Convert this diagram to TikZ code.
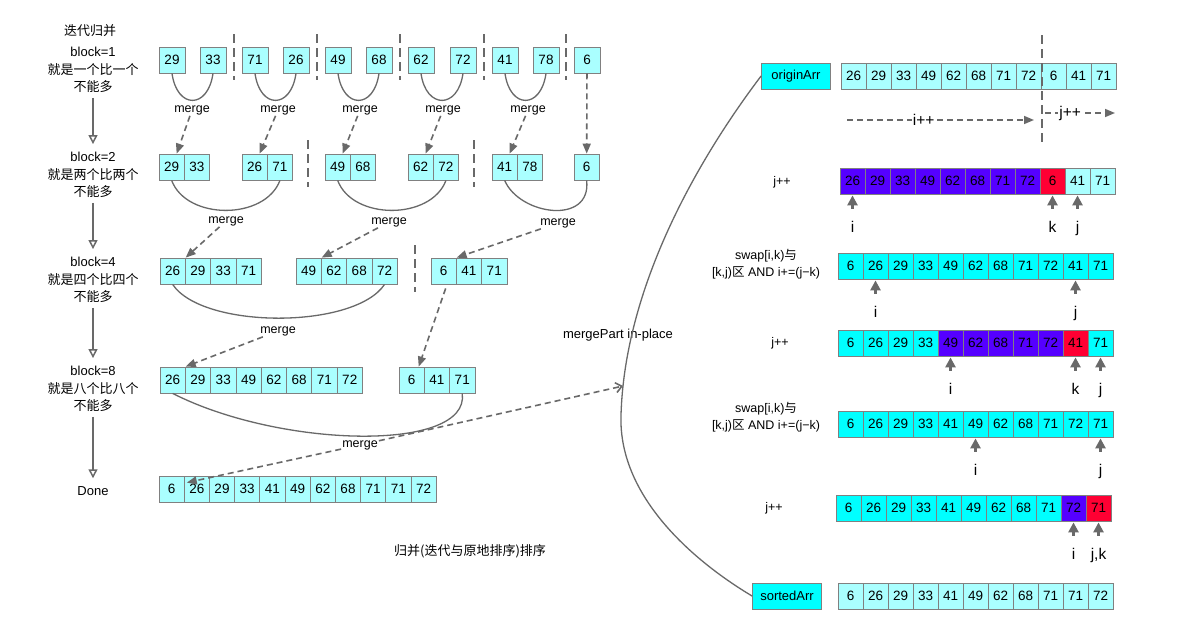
\documentclass[tikz,border=0pt]{standalone}
\usepackage{fontspec}
\setmainfont{Liberation Sans}
\newfontfamily\cjk{Noto Sans CJK SC}
\usepackage{xcolor}
\usetikzlibrary{arrows.meta, positioning, calc}
\definecolor{lc}{RGB}{170,255,255}
\definecolor{cy}{RGB}{0,255,255}
\definecolor{pu}{RGB}{85,0,255}
\definecolor{rd}{RGB}{255,0,51}
\definecolor{lineGray}{RGB}{128,128,128}
\definecolor{arrGray}{RGB}{105,105,105}

% a row of array cells: [cell width] name, left x, centre y, value/colour list
\newcommand{\cellrow}[5][25.3]{%
  \foreach \val/\col [count=\n from 0] in {#5}
    \node[cell, fill=\col, minimum width=#1] (#2\n) at ({#3+(\n+0.5)*#1}, #4) {\val};
}
% pointer label under a cell with its arrow
\newcommand{\ptr}[3]{%
  \node[ptrlbl] (#1) at ([yshift=-51pt]#2.center) {#3};
  \draw[uparr] (#1) -- (#2);
}

\begin{document}
\begin{tikzpicture}[
  x=1pt, y=-1pt,
  cell/.style={draw=lineGray, line width=0.8pt, minimum height=26, inner sep=0pt,
               font=\fontsize{13.5}{15}\selectfont},
  abox/.style={draw=lineGray, line width=0.8pt, fill=cy, minimum width=69,
               minimum height=26, inner sep=0pt, font=\fontsize{13}{15}\selectfont},
  lbl/.style={font=\fontsize{13}{17.5}\selectfont, align=center, inner sep=1pt},
  rlbl/.style={font=\fontsize{12.5}{17}\selectfont, align=center, inner sep=1pt},
  mrg/.style={font=\fontsize{12.5}{14}\selectfont, inner sep=1pt},
  ptrlbl/.style={anchor=base, inner sep=0pt, text height=11pt, text depth=0pt,
                 font=\fontsize{15.5}{17}\selectfont},
  flow/.style={draw=arrGray, line width=1.5pt, shorten <=4pt, shorten >=7pt,
               -{Triangle[open, length=9pt, width=9pt, fill=white]}},
  darr/.style={draw=arrGray, line width=1.6pt, dash pattern=on 6pt off 4pt,
               -{Triangle[length=10pt, width=8pt]}},
  darropen/.style={draw=arrGray, line width=1.6pt, dash pattern=on 6pt off 4pt,
               -{Straight Barb[length=6pt, width=10pt]}},
  uparr/.style={draw=arrGray, line width=2.6pt, shorten <=12pt, shorten >=1pt,
               -{Triangle[length=10pt, width=10pt]}},
  curve/.style={draw=arrGray, line width=1.3pt},
  sep/.style={draw=arrGray, line width=1.3pt, dash pattern=on 9pt off 5pt},
]
\path[fill=white] (0,0) rectangle (1196,641);

% ---- iterative merge, left side
\node[lbl] (t0) at (90,31) {\cjk 迭代归并};
\node[lbl] (s1) at (93,70) {block=1\\{\cjk 就是一个比一个}\\{\cjk 不能多}};
\node[lbl] (s2) at (93,175) {block=2\\{\cjk 就是两个比两个}\\{\cjk 不能多}};
\node[lbl] (s4) at (93,280) {block=4\\{\cjk 就是四个比四个}\\{\cjk 不能多}};
\node[lbl] (s8) at (93,389) {block=8\\{\cjk 就是八个比八个}\\{\cjk 不能多}};
\node[lbl] (done) at (93,491) {Done};

\draw[flow] (s1) -- (s2);
\draw[flow] (s2) -- (s4);
\draw[flow] (s4) -- (s8);
\draw[flow] (s8) -- (done);

% block=1
\foreach \val/\xl [count=\n] in {29/159,33/200,71/242,26/283,49/325,68/366,62/408,72/450,41/492,78/533,6/574}
  \node[cell, fill=lc, minimum width=26] (a\n) at (\xl+13,60) {\val};
\foreach \xs in {234,317,400,484,566}
  \draw[sep] (\xs,34) -- (\xs,80);
\foreach \p/\q in {1/2,3/4,5/6,7/8,9/10}
  \draw[curve] (a\p.south) .. controls +(5,36) and +(-5,36) .. (a\q.south);

% block=2
\cellrow{b1-}{159}{167}{29/lc,33/lc}
\cellrow{b2-}{242}{167}{26/lc,71/lc}
\cellrow{b3-}{325}{167}{49/lc,68/lc}
\cellrow{b4-}{408}{167}{62/lc,72/lc}
\cellrow{b5-}{492}{167}{41/lc,78/lc}
\cellrow{b6-}{574}{167}{6/lc}
\foreach \xs in {308,474}
  \draw[sep] (\xs,140) -- (\xs,187);

\node[mrg] (m1) at (192,110) {merge};
\node[mrg] (m2) at (278,110) {merge};
\node[mrg] (m3) at (360,110) {merge};
\node[mrg] (m4) at (443,110) {merge};
\node[mrg] (m5) at (528,110) {merge};
\draw[darr] (m1) -- ([xshift=5pt]b1-0.north);
\draw[darr] (m2) -- ([xshift=5pt]b2-0.north);
\draw[darr] (m3) -- ([xshift=5pt]b3-0.north);
\draw[darr] (m4) -- ([xshift=5pt]b4-0.north);
\draw[darr] (m5) -- ([xshift=5pt]b5-0.north);
\draw[darr] (a11) -- (b6-0);

\draw[curve] (b1-0.south) .. controls +(15,40) and +(-15,40) .. (b2-1.south);
\draw[curve] (b3-0.south) .. controls +(15,40) and +(-15,40) .. (b4-1.south);
\draw[curve] (b5-0.south) .. controls +(15,35) and +(5,45) .. (b6-0.south);

% block=4
\cellrow{c1-}{160}{271}{26/lc,29/lc,33/lc,71/lc}
\cellrow{c2-}{296}{271}{49/lc,62/lc,68/lc,72/lc}
\cellrow{c3-}{431}{271}{6/lc,41/lc,71/lc}
\draw[sep] (415,245) -- (415,292);

\node[mrg] (m6) at (226,221) {merge};
\node[mrg] (m7) at (389,222) {merge};
\node[mrg] (m8) at (558,223) {merge};
\draw[darr] (m6) -- (c1-0.north east);
\draw[darr] (m7) -- (c2-0.north east);
\draw[darr] (m8) -- (c3-0.north east);

\draw[curve] (c1-0.south) .. controls +(30,45) and +(-30,45) .. (c2-3.south);

% block=8
\cellrow{d1-}{160}{380}{26/lc,29/lc,33/lc,49/lc,62/lc,68/lc,71/lc,72/lc}
\cellrow{d2-}{399}{380}{6/lc,41/lc,71/lc}

\node[mrg] (m9) at (278,331) {merge};
\draw[darr] (m9) -- (d1-0.north east);
\draw[darr] ([xshift=2pt,yshift=-4pt]c3-0.south) -- ([xshift=-6pt]d2-0.north east);

\draw[curve] (d1-0.south) .. controls +(108,55) and +(8,59) .. (d2-2.south);

% done
\cellrow[25.2]{e}{159}{489}{6/lc,26/lc,29/lc,33/lc,41/lc,49/lc,62/lc,68/lc,71/lc,71/lc,72/lc}
\node[mrg] (m10) at (360,445) {merge};
\draw[darr] (m10) -- ([xshift=3pt,yshift=-7pt]e1.north west);

\node[lbl] (cap) at (470,551) {\cjk 归并(迭代与原地排序)排序};

% ---- in-place merge, right side
\node[abox] (oa) at (796,76) {originArr};
\cellrow[25]{r0-}{841}{76}{26/lc,29/lc,33/lc,49/lc,62/lc,68/lc,71/lc,72/lc,6/lc,41/lc,71/lc}
\node[abox] (sa) at (787,596) {sortedArr};
\cellrow[25]{r6-}{838}{596}{6/lc,26/lc,29/lc,33/lc,41/lc,49/lc,62/lc,68/lc,71/lc,71/lc,72/lc}

\node[lbl] (mp) at (618,335) {mergePart in-place};
\coordinate (cm) at (621,415);
\coordinate (mpt) at (623,386);
\draw[curve] (oa.west) .. controls (705,150) and (625,280) .. (cm)
  .. controls (618,500) and (700,565) .. (sa.west);
\draw[darropen] (m10) -- (mpt);

% i++ / j++ scan
\coordinate (vt) at (1042,35);
\coordinate (vb) at (1042,143);
\draw[sep] (vt) -- (vb);
\coordinate (ia) at (847,120);
\coordinate (ib) at (1034,120);
\coordinate (ja) at (1045,113);
\coordinate (jb) at (1115,113);
\draw[darr] (ia) -- node[pos=0.41, fill=white, inner sep=1pt, font=\fontsize{15.5}{17}\selectfont] (il) {i++} (ib);
\draw[darr] (ja) -- node[pos=0.36, fill=white, inner sep=1pt, font=\fontsize{15.5}{17}\selectfont] (jl) {j++} (jb);

% step 1
\node[rlbl] (l1) at (782,182) {j++};
\cellrow[25]{r1-}{840}{181}{26/pu,29/pu,33/pu,49/pu,62/pu,68/pu,71/pu,72/pu,6/rd,41/lc,71/lc}
\ptr{p1i}{r1-0}{i}
\ptr{p1k}{r1-8}{k}
\ptr{p1j}{r1-9}{j}

% step 2
\node[rlbl] (l2) at (766,264) {swap[i,k){\cjk 与}\\{}[k,j){\cjk 区} AND i+=(j−k)};
\cellrow[25]{r2-}{838}{266}{6/cy,26/cy,29/cy,33/cy,49/cy,62/cy,68/cy,71/cy,72/cy,41/cy,71/cy}
\ptr{p2i}{r2-1}{i}
\ptr{p2j}{r2-9}{j}

% step 3
\node[rlbl] (l3) at (780,343) {j++};
\cellrow[25]{r3-}{838}{343}{6/cy,26/cy,29/cy,33/cy,49/pu,62/pu,68/pu,71/pu,72/pu,41/rd,71/cy}
\ptr{p3i}{r3-4}{i}
\ptr{p3k}{r3-9}{k}
\ptr{p3j}{r3-10}{j}

% step 4
\node[rlbl] (l4) at (766,417) {swap[i,k){\cjk 与}\\{}[k,j){\cjk 区} AND i+=(j−k)};
\cellrow[25]{r4-}{838}{424}{6/cy,26/cy,29/cy,33/cy,41/cy,49/cy,62/cy,68/cy,71/cy,72/cy,71/cy}
\ptr{p4i}{r4-5}{i}
\ptr{p4j}{r4-10}{j}

% step 5
\node[rlbl] (l5) at (774,508) {j++};
\cellrow[25]{r5-}{836}{508}{6/cy,26/cy,29/cy,33/cy,41/cy,49/cy,62/cy,68/cy,71/cy,72/pu,71/rd}
\ptr{p5i}{r5-9}{i}
\ptr{p5jk}{r5-10}{j,k}

\end{tikzpicture}
\end{document}
